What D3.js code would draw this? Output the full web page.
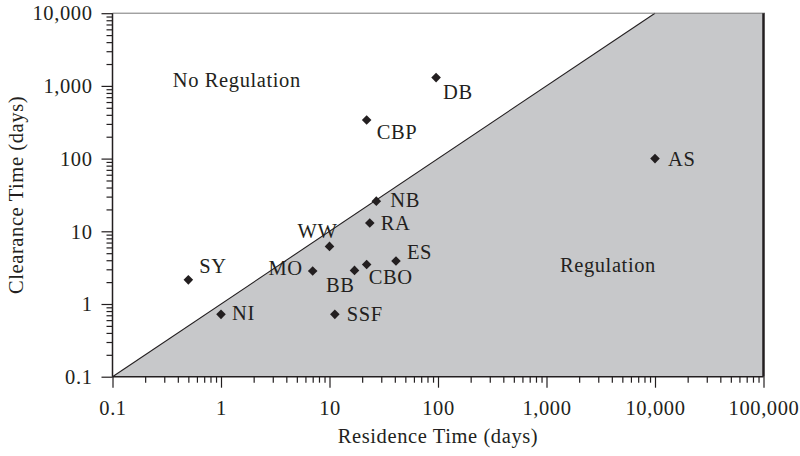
<!DOCTYPE html>
<html>
<head>
<meta charset="utf-8">
<script src="https://cdn.jsdelivr.net/npm/d3@7/dist/d3.min.js"></script>
<style>
  html, body { margin: 0; padding: 0; background: #fff; }
  svg { display: block; }
  text { font-family: "Liberation Serif", "DejaVu Serif", serif; fill: #231f20; letter-spacing: 0.6px; }
</style>
</head>
<body>
<svg id="chart" width="800" height="456"></svg>
<script>
// ---- Data ----
const sites       = ["SY", "NI", "MO", "WW", "BB", "CBO", "ES", "RA", "NB", "SSF", "CBP", "DB", "AS"];
const residence   = [0.5, 1.0, 7.0, 10.0, 17, 22, 41, 23.5, 27, 11.2, 22, 96, 10000];
const clearance   = [2.15, 0.72, 2.85, 6.2, 2.9, 3.5, 3.9, 13, 26, 0.72, 340, 1300, 100];
// label placement relative to each point: [dx, dy, anchor]
const labelPlace  = [[11,-7,"start"],[11,6,"start"],[-10,4.5,"end"],[8,-8,"end"],[0,22,"end"],
                     [2,20,"start"],[11,-2,"start"],[11,7,"start"],[14,6,"start"],[12,7,"start"],
                     [10,19,"start"],[7,21,"start"],[13,7,"start"]];
const xTickValues = [0.1, 1, 10, 100, 1000, 10000, 100000];
const yTickValues = [0.1, 1, 10, 100, 1000, 10000];
const regionNames = ["No Regulation", "Regulation"];
const regionX     = [0.36, 1330];
const regionY     = [966, 2.75];

// ---- Layout ----
const FS = 20.5;
const svg = d3.select("#chart");
const x = d3.scaleLog().domain([0.1, 100000]).range([112.5, 763.5]);
const y = d3.scaleLog().domain([0.1, 10000]).range([376.7, 13.2]);

function minors(ticks) {
  const out = [];
  for (let i = 0; i < ticks.length - 1; i++)
    for (let k = 2; k <= 9; k++) out.push(ticks[i] * k);
  return out;
}

// shaded "Regulation" region (below y = x)
const poly = [[0.1, 0.1], [10000, 10000], [100000, 10000], [100000, 0.1]];
svg.append("path")
  .attr("d", d3.line().x(d => x(d[0])).y(d => y(d[1]))(poly) + "Z")
  .attr("fill", "#c7c8ca");

// diagonal 1:1 line
svg.append("line")
  .attr("x1", x(0.1)).attr("y1", y(0.1))
  .attr("x2", x(10000)).attr("y2", y(10000))
  .attr("stroke", "#231f20").attr("stroke-width", 1.1);

// top frame line
svg.append("line")
  .attr("x1", x(0.1)).attr("x2", x(100000) + 1.5)
  .attr("y1", y(10000)).attr("y2", y(10000))
  .attr("stroke", "#777").attr("stroke-width", 1);
// right frame line
svg.append("line")
  .attr("x1", x(100000)).attr("x2", x(100000))
  .attr("y1", y(10000)).attr("y2", y(0.1))
  .attr("stroke", "#231f20").attr("stroke-width", 2.5);

const fmt = d3.format(",");

// Y axis
const gy = svg.append("g").attr("transform", `translate(${x(0.1)},0)`);
gy.call(d3.axisLeft(y).tickValues(minors(yTickValues)).tickSize(6).tickFormat(""));
gy.call(g => g.selectAll(".domain").remove());
const gyMaj = svg.append("g").attr("transform", `translate(${x(0.1)},0)`)
  .call(d3.axisLeft(y).tickValues(yTickValues).tickSize(11).tickPadding(9.5).tickFormat(fmt));
[gy, gyMaj].forEach(g => {
  g.selectAll("line").attr("stroke", "#231f20").attr("stroke-width", 1.2);
  g.selectAll("text").remove();
});
gyMaj.select(".domain").attr("stroke", "#231f20").attr("stroke-width", 1.5).attr("d", `M0,${y(0.1)}V${y(10000)}`);
gyMaj.selectAll(".tick").append("text")
  .attr("x", -20).attr("dy", "0.33em").attr("text-anchor", "end")
  .attr("font-size", FS)
  .text(d => fmt(d));

// X axis
const gx = svg.append("g").attr("transform", `translate(0,${y(0.1)})`);
gx.call(d3.axisBottom(x).tickValues(minors(xTickValues)).tickSize(6).tickFormat(""));
gx.call(g => g.selectAll(".domain").remove());
const gxMaj = svg.append("g").attr("transform", `translate(0,${y(0.1)})`)
  .call(d3.axisBottom(x).tickValues(xTickValues).tickSize(11).tickFormat(fmt));
[gx, gxMaj].forEach(g => {
  g.selectAll("line").attr("stroke", "#231f20").attr("stroke-width", 1.2);
  g.selectAll("text").remove();
});
gxMaj.select(".domain").attr("stroke", "#231f20").attr("stroke-width", 1.5).attr("d", `M${x(0.1)},0H${x(100000)}`);
gxMaj.selectAll(".tick").append("text")
  .attr("y", 38.5).attr("text-anchor", "middle")
  .attr("font-size", FS)
  .text(d => fmt(d));

// axis titles
svg.append("text")
  .attr("x", (x(0.1) + x(100000)) / 2).attr("y", 443)
  .attr("text-anchor", "middle").attr("font-size", FS)
  .text("Residence Time (days)");
svg.append("text")
  .attr("transform", `translate(23,${(y(0.1) + y(10000)) / 2}) rotate(-90)`)
  .attr("text-anchor", "middle").attr("font-size", FS)
  .text("Clearance Time (days)");

// region labels
svg.selectAll(".region").data(regionNames).enter().append("text")
  .attr("class", "region")
  .attr("x", (d, i) => x(regionX[i])).attr("y", (d, i) => y(regionY[i]))
  .attr("font-size", FS)
  .text(d => d);

// points
const pts = sites.map((s, i) => ({ s, rx: residence[i], cy: clearance[i], p: labelPlace[i] }));
const sym = d3.symbol().type(d3.symbolSquare).size(46);
svg.selectAll(".pt").data(pts).enter().append("path")
  .attr("class", "pt")
  .attr("d", sym)
  .attr("transform", d => `translate(${x(d.rx)},${y(d.cy)}) rotate(45)`)
  .attr("fill", "#231f20");

svg.selectAll(".lbl").data(pts).enter().append("text")
  .attr("class", "lbl")
  .attr("x", d => x(d.rx) + d.p[0])
  .attr("y", d => y(d.cy) + d.p[1])
  .attr("text-anchor", d => d.p[2])
  .attr("font-size", FS)
  .text(d => d.s);
</script>
</body>
</html>
